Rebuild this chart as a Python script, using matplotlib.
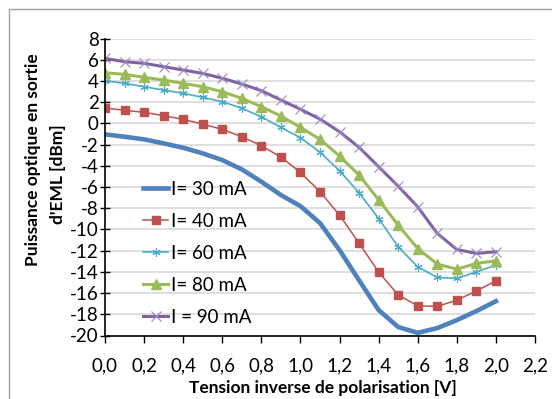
import matplotlib
matplotlib.use("Agg")
import matplotlib.pyplot as plt
from matplotlib.patches import Rectangle

plt.rcParams['font.family'] = ['Lato', 'DejaVu Sans']

x = [0.0, 0.1, 0.2, 0.3, 0.4, 0.5, 0.6, 0.7, 0.8, 0.9, 1.0,
     1.1, 1.2, 1.3, 1.4, 1.5, 1.6, 1.7, 1.8, 1.9, 2.0]

i30 = [-1.04, -1.26, -1.51, -1.89, -2.3, -2.83, -3.46, -4.34, -5.5, -6.76, -7.8,
       -9.4, -11.95, -14.8, -17.6, -19.2, -19.75, -19.3, -18.55, -17.7, -16.77]
i40 = [1.45, 1.23, 1.04, 0.72, 0.38, -0.07, -0.57, -1.26, -2.11, -3.18, -4.62,
       -6.45, -8.65, -11.3, -14.03, -16.17, -17.2, -17.26, -16.67, -15.8, -14.85]
i60 = [4.02, 3.77, 3.45, 3.14, 2.83, 2.45, 2.04, 1.42, 0.62, -0.38, -1.35,
       -2.72, -4.47, -6.55, -8.97, -11.64, -13.53, -14.53, -14.62, -14.0, -13.37]
i80 = [4.77, 4.62, 4.34, 4.08, 3.77, 3.45, 2.98, 2.36, 1.57, 0.69, -0.38,
       -1.51, -3.08, -4.88, -7.2, -9.6, -11.8, -13.27, -13.75, -13.2, -12.96]
i90 = [6.13, 5.81, 5.66, 5.34, 5.03, 4.71, 4.25, 3.71, 3.08, 2.2, 1.33,
       0.4, -0.79, -2.26, -4.09, -5.92, -7.87, -10.38, -11.89, -12.26, -12.11]

labels = ["I= 30 mA", "I= 40 mA", "I= 60 mA", "I= 80 mA", "I = 90 mA"]
xticks = [0.0, 0.2, 0.4, 0.6, 0.8, 1.0, 1.2, 1.4, 1.6, 1.8, 2.0, 2.2]
xticklabels = ["0,0", "0,2", "0,4", "0,6", "0,8", "1,0", "1,2", "1,4", "1,6", "1,8", "2,0", "2,2"]
yticks = list(range(-20, 9, 2))
ylabel_lines = ["Puissance optique en sortie", "d'EML [dBm]"]
xlabel = "Tension inverse de polarisation [V]"

W, H = 552, 399
fig = plt.figure(figsize=(W / 100, H / 100), dpi=100)
fig.patches.append(Rectangle((9 / W, -0.1), 2.0, 1.1 - 9 / H, transform=fig.transFigure,
                             fill=False, edgecolor='#a0a0a0', linewidth=1.0))
ax = fig.add_axes([105 / W, 1 - 335.5 / H, (535 - 105) / W, (335.5 - 38.5) / H])

ax.plot(x, i30, color='#4F81BD', lw=3.3, label=labels[0])
ax.plot(x, i40, color='#C0504D', lw=1.1, marker='s', ms=6, label=labels[1])
ax.plot(x, i60, color='#4BACC6', lw=1.2, marker=(6, 2, 0), ms=6, mew=0.8, label=labels[2])
ax.plot(x, i80, color='#9BBB59', lw=2.2, marker='^', ms=7, label=labels[3])
ax.plot(x, i90, color='#8064A2', lw=2.2, marker='x', ms=7, mew=0.8, mec='#9C88C0', label=labels[4])

ax.set_xlim(0, 2.2)
ax.set_ylim(-20, 8)
ax.set_xticks(xticks)
ax.set_xticklabels(xticklabels)
ax.set_yticks(yticks)
ax.set_yticklabels([str(v) for v in yticks])
ax.tick_params(axis='both', labelsize=13.5, colors='black', width=1)
ax.tick_params(axis='y', direction='inout', length=7, pad=1)
ax.tick_params(axis='x', direction='out', length=5, pad=11)
ax.yaxis.grid(True, color='#D9D9D9', lw=1.2)
ax.set_axisbelow(True)
for s in ['top', 'right']:
    ax.spines[s].set_visible(False)
for s in ['left', 'bottom']:
    ax.spines[s].set_linewidth(1.2)

fig.text(0.5 * (105 + 535) / W + 0.005, 1 - 388 / H, xlabel, fontsize=12.5, fontweight='bold',
         ha='center', va='center')
fig.text(33 / W, 1 - 160 / H, ylabel_lines[0], fontsize=12.5, fontweight='bold',
         rotation=90, ha='center', va='center')
fig.text(58 / W, 1 - 174 / H, ylabel_lines[1], fontsize=12.5, fontweight='bold',
         rotation=90, ha='center', va='center')

leg = ax.legend(loc='lower left', bbox_to_anchor=(0.05, -0.025), frameon=False, fontsize=13.5,
                handlelength=1.3, handletextpad=0.15, labelspacing=0.8)

fig.savefig("out.png", dpi=100)
